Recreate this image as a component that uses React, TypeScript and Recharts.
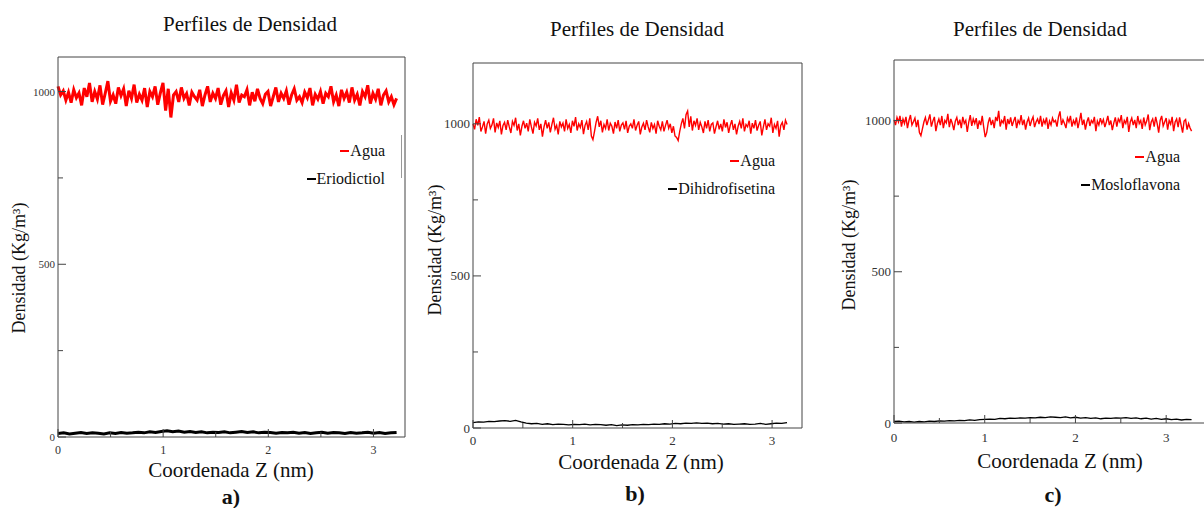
import React from "react";
import { LineChart, Line, XAxis, YAxis } from "recharts";

const FONT = "'Liberation Serif', 'Times New Roman', Times, serif";
const AXIS = "#444";

// tick positions shared by the three panels
const zTicks = [0, 0.5, 1, 1.5, 2, 2.5, 3];
const densTicks = [0, 250, 500, 750, 1000];

// a) Agua / Eriodictiol
const aguaA = [
  1015, 990, 1002, 975, 998, 968, 1005, 982, 996, 960, 1010, 985, 1025, 970, 1000, 978, 1018, 962, 995, 1030,
  972, 990, 965, 1012, 988, 1008, 958, 1002, 980, 1020, 968, 992, 975, 1010, 955, 1000, 985, 1015, 962, 996,
  1025, 945, 1008, 925, 990, 1000, 970, 1012, 980, 994, 960, 998, 985, 975, 1005, 958, 990, 1015, 970, 995,
  980, 1010, 962, 988, 1002, 955, 996, 975, 1020, 968, 990, 985, 1005, 960, 998, 972, 1008, 980, 965, 992,
  1000, 958, 985, 1012, 970, 995, 980, 1002, 962, 990, 1008, 975, 985, 968, 998, 982, 1010, 960, 992, 978,
  1000, 965, 995, 985, 1015, 970, 990, 958, 1005, 980, 998, 968, 1012, 975, 992, 960, 1000, 985, 1018, 965,
  995, 978, 1008, 960, 990, 1002, 970, 985, 962, 980,
];
const eriodictiol = [
  10, 12, 9, 11, 13, 10, 12, 11, 9, 12, 10, 13, 11, 12, 14, 12, 15, 13, 16, 18,
  15, 17, 14, 16, 13, 15, 12, 14, 13, 15, 12, 14, 16, 13, 15, 12, 14, 13, 11, 13,
  12, 14, 11, 13, 10, 12, 14, 11, 13, 12, 10, 13, 11, 12, 14, 11, 13, 10, 12, 13,
];

// b) Agua / Dihidrofisetina
const aguaB = [
  1000, 982, 1015, 995, 1022, 975, 990, 1008, 968, 1000, 1012, 985, 996, 1018, 972, 1003, 988, 1010, 965, 995,
  1005, 980, 1012, 990, 970, 1008, 995, 1020, 978, 1000, 962, 992, 1010, 985, 1002, 975, 1015, 990, 968, 1005,
  993, 1018, 980, 1000, 958, 990, 1012, 985, 1005, 972, 998, 1020, 982, 995, 965, 1008, 990, 1002, 975, 1015,
  985, 998, 970, 1010, 992, 1022, 978, 1000, 988, 1012, 966, 995, 1008, 980, 1018, 960, 948, 975, 1005, 1025,
  990, 1010, 972, 998, 985, 1015, 978, 1002, 992, 968, 1006, 985, 1012, 975, 996, 1003, 982, 1010, 970, 992,
  1000, 985, 1015, 978, 995, 1008, 965, 990, 1002, 980, 1012, 990, 972, 1005, 985, 998, 968, 1010, 992, 980,
  1008, 975, 995, 1012, 985, 1000, 970, 992, 960, 955, 945, 975, 1000, 1018, 985, 1030, 1042, 990, 1025, 978,
  1010, 995, 1018, 980, 1005, 990, 970, 1008, 985, 1012, 975, 998, 1003, 968, 990, 1010, 982, 1000, 975, 1015,
  988, 1005, 970, 995, 1012, 980, 1000, 965, 992, 1008, 985, 1018, 975, 998, 990, 1010, 968, 1002, 985, 1012,
  978, 995, 1008, 962, 990, 1015, 980, 1000, 992, 1020, 970, 998, 985, 1010, 958, 995, 1005, 980, 1012, 998,
];
const dihidrofisetina = [
  18, 20, 19, 22, 21, 23, 24, 22, 25, 20,
  16, 14, 15, 12, 14, 11, 13, 12, 10, 12, 11, 13, 10, 12, 11, 9, 11, 8, 10,
  9, 11, 10, 12, 11, 13, 12, 14, 13, 15, 14, 16, 15,
  17, 15, 16, 14, 15, 13, 14, 12, 13, 14, 12, 13, 15, 12, 14, 16, 15, 18,
];

// c) Agua / Mosloflavona
const aguaC = [
  1002, 985, 1010, 995, 1015, 980, 1005, 990, 1012, 975, 1000, 1018, 985, 996, 1008, 978, 1002, 960, 950, 972,
  995, 1010, 985, 1002, 1020, 980, 998, 1012, 965, 990, 1005, 985, 1015, 975, 1000, 992, 1022, 978, 1005, 990,
  968, 998, 1010, 985, 1003, 975, 1012, 990, 1000, 962, 995, 1018, 982, 1005, 990, 1008, 972, 1000, 985, 1015,
  978, 945, 960, 992, 1010, 985, 1002, 975, 1012, 998, 1032, 980, 1000, 992, 1015, 970, 1005, 988, 1010, 982,
  998, 1012, 975, 1000, 990, 1018, 985, 1003, 970, 995, 1008, 982, 1000, 1012, 978, 995, 1005, 988, 1015, 980,
  1002, 990, 1010, 972, 998, 985, 1008, 995, 1000, 980, 1012, 1030, 985, 1002, 990, 975, 1008, 995, 1015, 980,
  1000, 988, 1010, 975, 998, 1025, 985, 1003, 970, 995, 1010, 982, 1000, 992, 1012, 965, 998, 985, 1008, 990,
  1003, 978, 995, 1015, 985, 1000, 968, 992, 1010, 980, 1005, 995, 1018, 975, 1000, 990, 1012, 962, 995, 1008,
  985, 1002, 975, 1015, 990, 1000, 972, 1010, 985, 998, 1020, 968, 995, 1005, 980, 1012, 990, 960, 1000, 1015,
  982, 995, 1008, 970, 1000, 988, 1012, 965, 995, 1005, 978, 1010, 985, 960, 998, 1003, 970, 990, 975, 965,
];
const mosloflavona = [
  5, 6, 4, 5, 3, 5, 4, 6, 5, 7, 6, 8, 7, 9, 8, 10, 9, 11, 12, 13,
  12, 15, 14, 16, 15, 17, 16, 18, 17, 19, 18, 20, 19, 18, 20, 17, 19, 16, 18, 15,
  17, 14, 16, 15, 17, 16, 18, 15, 17, 14, 16, 13, 15, 12, 14, 11, 13, 10, 12, 11,
];

const toSeries = (vals: number[], zEnd: number) =>
  vals.map((v, i) => ({ z: (i * zEnd) / (vals.length - 1), v }));

// margins already leave 1px for each (1px wide) axis
const panels = [
  {
    left: 0, width: 420, margin: { top: 56, right: 14, bottom: 70, left: 57 },
    xMax: 3.3, yMax: 1100, water: toSeries(aguaA, 3.22), solute: toSeries(eriodictiol, 3.22),
    redW: 3, blackW: 3, yFs: 11, xFs: 12, xDy: 13,
  },
  {
    left: 420, width: 400, margin: { top: 62, right: 17, bottom: 79, left: 52 },
    xMax: 3.3, yMax: 1200, water: toSeries(aguaB, 3.15), solute: toSeries(dihidrofisetina, 3.15),
    redW: 1.4, blackW: 1.3, yFs: 13, xFs: 13, xDy: 12,
  },
  {
    left: 840, width: 380, margin: { top: 59, right: 12, bottom: 84, left: 53 },
    xMax: 3.45, yMax: 1200, water: toSeries(aguaC, 3.28), solute: toSeries(mosloflavona, 3.28),
    redW: 1.4, blackW: 1.3, yFs: 13, xFs: 13, xDy: 14,
  },
];

const isMajor = (v: number) => v % 500 === 0 || (v < 10 && Number.isInteger(v));

function BottomTick({ x, y, payload, fs, dy }: any) {
  const v = payload.value;
  const major = isMajor(v);
  return (
    <g>
      <line x1={x} x2={x} y1={y} y2={y - (major ? 8 : 5)} stroke={AXIS} />
      {major && (
        <text x={x} y={y + dy} textAnchor="middle" dominantBaseline="central" fontSize={fs} fontFamily={FONT} fill="#333">
          {v}
        </text>
      )}
    </g>
  );
}

function TopTick({ x, y, payload }: any) {
  const major = isMajor(payload.value);
  return <line x1={x} x2={x} y1={y} y2={y + (major ? 8 : 5)} stroke={AXIS} />;
}

function LeftTick({ x, y, payload, fs }: any) {
  const v = payload.value;
  const major = isMajor(v);
  return (
    <g>
      <line x1={x} x2={x + (major ? 8 : 5)} y1={y} y2={y} stroke={AXIS} />
      {major && (
        <text x={x - 3} y={y} textAnchor="end" dominantBaseline="central" fontSize={fs} fontFamily={FONT} fill="#333">
          {v}
        </text>
      )}
    </g>
  );
}

function RightTick({ x, y, payload }: any) {
  const major = isMajor(payload.value);
  return <line x1={x} x2={x - (major ? 8 : 5)} y1={y} y2={y} stroke={AXIS} />;
}

function Panel({ p }: any) {
  return (
    <div style={{ position: "absolute", left: p.left, top: 0 }}>
      <LineChart width={p.width} height={508} margin={p.margin}>
        <XAxis
          xAxisId="b" type="number" dataKey="z" domain={[0, p.xMax]} ticks={zTicks} interval={0}
          height={1} tickSize={0} tickMargin={0} tickLine={false} axisLine={{ stroke: AXIS }}
          tick={(t: any) => <BottomTick x={t.x} y={t.y} payload={t.payload} fs={p.xFs} dy={p.xDy} />}
        />
        <XAxis
          xAxisId="t" orientation="top" type="number" dataKey="z" domain={[0, p.xMax]} ticks={zTicks} interval={0}
          height={1} tickSize={0} tickMargin={0} tickLine={false} axisLine={{ stroke: AXIS }}
          tick={(t: any) => <TopTick x={t.x} y={t.y} payload={t.payload} />}
        />
        <YAxis
          yAxisId="l" type="number" domain={[0, p.yMax]} ticks={densTicks} interval={0}
          width={1} tickSize={0} tickMargin={0} tickLine={false} axisLine={{ stroke: AXIS }}
          tick={(t: any) => <LeftTick x={t.x} y={t.y} payload={t.payload} fs={p.yFs} />}
        />
        <YAxis
          yAxisId="r" orientation="right" type="number" domain={[0, p.yMax]} ticks={densTicks} interval={0}
          width={1} tickSize={0} tickMargin={0} tickLine={false} axisLine={{ stroke: AXIS }}
          tick={(t: any) => <RightTick x={t.x} y={t.y} payload={t.payload} />}
        />
        <Line
          xAxisId="b" yAxisId="l" data={p.water} dataKey="v" type="linear" stroke="#ff0000"
          strokeWidth={p.redW} dot={false} isAnimationActive={false}
        />
        <Line
          xAxisId="b" yAxisId="l" data={p.solute} dataKey="v" type="linear" stroke="#000000"
          strokeWidth={p.blackW} dot={false} isAnimationActive={false}
        />
      </LineChart>
    </div>
  );
}

const titles = [
  { x: 250, y: 24 },
  { x: 637, y: 29 },
  { x: 1040, y: 29 },
];
const xLabels = [
  { x: 231, y: 470 },
  { x: 641, y: 462 },
  { x: 1060, y: 461 },
];
const letters = [
  { x: 231, y: 497, t: "a)" },
  { x: 635, y: 494, t: "b)" },
  { x: 1053, y: 495, t: "c)" },
];
const yLabels = [
  { x: 19, y: 268 },
  { x: 435, y: 250 },
  { x: 849, y: 245 },
];
const legends = [
  { right: 385, y1: 151, y2: 179, name: "Eriodictiol" },
  { right: 775, y1: 161, y2: 189, name: "Dihidrofisetina" },
  { right: 1180, y1: 157, y2: 185, name: "Mosloflavona" },
];

const centered = (x: number, y: number): React.CSSProperties => ({
  position: "absolute", left: x, top: y, transform: "translate(-50%, -50%)", whiteSpace: "nowrap",
});

function LegendRow({ right, y, color, label }: any) {
  return (
    <div
      style={{
        position: "absolute", right: 1204 - right, top: y, transform: "translateY(-50%)",
        fontSize: 16, whiteSpace: "nowrap", display: "flex", alignItems: "center",
      }}
    >
      <span style={{ display: "inline-block", width: 9, height: 1.5, background: color, marginRight: 1 }} />
      {label}
    </div>
  );
}

export default function App() {
  return (
    <div
      style={{
        position: "absolute", left: 0, top: 0, width: 1204, height: 508, overflow: "hidden",
        background: "#fff", fontFamily: FONT, color: "#111",
      }}
    >
      {panels.map((p, i) => (
        <Panel key={i} p={p} />
      ))}
      {titles.map((t, i) => (
        <div key={i} style={{ ...centered(t.x, t.y), fontSize: 21 }}>Perfiles de Densidad</div>
      ))}
      {xLabels.map((t, i) => (
        <div key={i} style={{ ...centered(t.x, t.y), fontSize: 21 }}>Coordenada Z (nm)</div>
      ))}
      {letters.map((t, i) => (
        <div key={i} style={{ ...centered(t.x, t.y), fontSize: 22, fontWeight: "bold" }}>{t.t}</div>
      ))}
      {yLabels.map((t, i) => (
        <div key={i} style={{ ...centered(t.x, t.y), fontSize: 18, transform: "translate(-50%, -50%) rotate(-90deg)" }}>
          Densidad (Kg/m³)
        </div>
      ))}
      {legends.map((l, i) => (
        <React.Fragment key={i}>
          <LegendRow right={l.right} y={l.y1} color="#ff0000" label="Agua" />
          <LegendRow right={l.right} y={l.y2} color="#000000" label={l.name} />
        </React.Fragment>
      ))}
      <div style={{ position: "absolute", left: 401, top: 135, width: 1, height: 43, background: "#999" }} />
    </div>
  );
}
